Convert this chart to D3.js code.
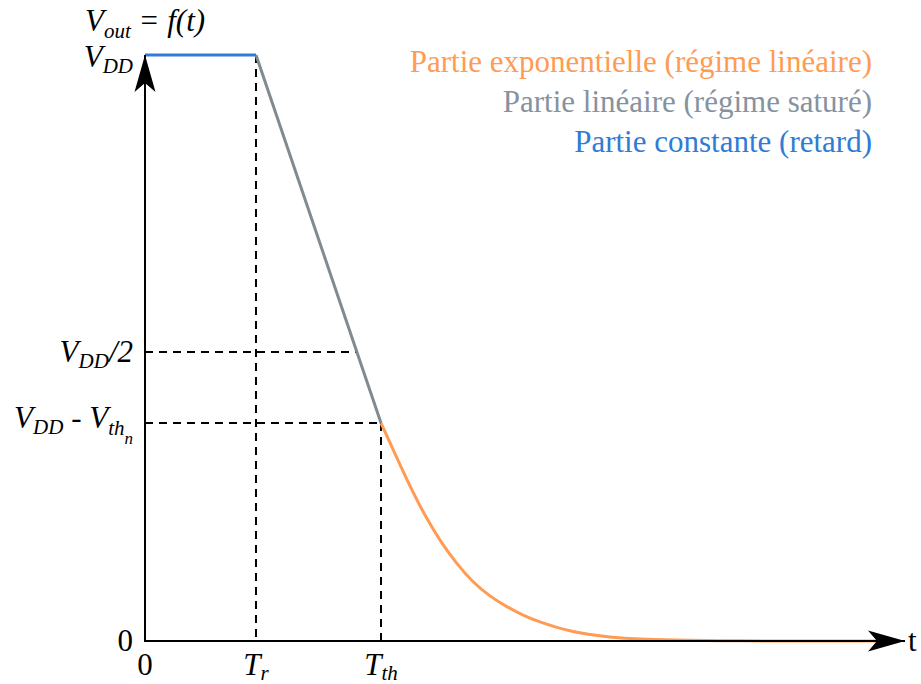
<!DOCTYPE html>
<html>
<head>
<meta charset="utf-8">
<script src="https://cdn.jsdelivr.net/npm/d3@7"></script>
<style>
body{margin:0;background:#fff}
svg text{font-family:"Liberation Serif","DejaVu Serif","Noto Serif","FreeSerif",Times,serif}
</style>
</head>
<body>
<svg id="chart"></svg>
<script>
// temps (0 .. fin de l'axe) et tension normalisee par VDD
var tMarks = [0, 1.11, 2.36]          // 0, Tr, Tth
var tNames = ["0", "Tr", "Tth"]
var vHalf = 0.493
var vTh = 0.372

var constT = [0, 1.11]
var constV = [1, 1]
var linT = [1.11, 2.36]
var linV = [1, 0.372]
var expT = [2.36, 2.52, 2.68, 2.82, 2.95, 3.12, 3.28, 3.45, 3.62, 3.78, 3.95, 4.12, 4.28, 4.45, 4.62, 4.95, 5.28, 5.75, 7.45]
var expV = [0.372, 0.312, 0.253, 0.208, 0.171, 0.131, 0.100, 0.076, 0.058, 0.044, 0.032, 0.023, 0.016, 0.011, 0.007, 0.003, 0.0015, 0, 0]

var legend = ["Partie exponentielle (régime linéaire)", "Partie linéaire (régime saturé)", "Partie constante (retard)"]
var colors = ["#ff9b52", "#86929e", "#2f7bd5"]
var lineColors = ["#ff9b52", "#7f8b91", "#2f7bd5"]

var W = 921, H = 684
var svg = d3.select("#chart").attr("width", W).attr("height", H)

var x = d3.scaleLinear().domain([0, 7.6]).range([145, 905])
var y = d3.scaleLinear().domain([0, 1]).range([641, 55])

var defs = svg.append("defs")
defs.append("marker")
  .attr("id", "arrow")
  .attr("markerUnits", "userSpaceOnUse")
  .attr("viewBox", "-38 -11 40 22")
  .attr("refX", 0).attr("refY", 0)
  .attr("markerWidth", 40).attr("markerHeight", 22)
  .attr("orient", "auto")
  .append("path")
  .attr("d", "M0,0 L-37,-10.5 L-28,0 L-37,10.5 Z")
  .attr("fill", "#000")

var zip = function(ts, vs){
  return ts.map(function(t, i){ return [t, vs[i]] })
}
var line = d3.line().x(function(d){ return x(d[0]) }).y(function(d){ return y(d[1]) })
var curve = d3.line().x(function(d){ return x(d[0]) }).y(function(d){ return y(d[1]) }).curve(d3.curveBasis)

// pointilles
var dash = svg.append("g").attr("stroke", "#000").attr("stroke-width", 2).attr("stroke-dasharray", "8,6")
dash.append("line").attr("x1", x(tMarks[1])).attr("x2", x(tMarks[1])).attr("y1", y(1)).attr("y2", y(0))
dash.append("line").attr("x1", x(tMarks[2])).attr("x2", x(tMarks[2])).attr("y1", y(vTh)).attr("y2", y(0))
var tHalf = linT[0] + (linT[1] - linT[0]) * (1 - vHalf) / (linV[0] - linV[1])
dash.append("line").attr("x1", x(0)).attr("x2", x(tHalf)).attr("y1", y(vHalf)).attr("y2", y(vHalf))
dash.append("line").attr("x1", x(0)).attr("x2", x(tMarks[2])).attr("y1", y(vTh)).attr("y2", y(vTh))

// courbes
svg.append("path").datum(zip(expT, expV)).attr("d", curve)
  .attr("fill", "none").attr("stroke", lineColors[0]).attr("stroke-width", 3)
svg.append("path").datum(zip(linT, linV)).attr("d", line)
  .attr("fill", "none").attr("stroke", lineColors[1]).attr("stroke-width", 3)
svg.append("path").datum(zip(constT, constV)).attr("d", line)
  .attr("fill", "none").attr("stroke", lineColors[2]).attr("stroke-width", 3)

// axes
svg.append("line").attr("x1", x(0)).attr("y1", y(0)).attr("x2", x(7.6)).attr("y2", y(0))
  .attr("stroke", "#000").attr("stroke-width", 2).attr("marker-end", "url(#arrow)")
svg.append("line").attr("x1", x(0)).attr("y1", y(0) + 1).attr("x2", x(0)).attr("y2", y(1))
  .attr("stroke", "#000").attr("stroke-width", 2).attr("marker-end", "url(#arrow)")

// textes axe y
var big = 31, sub = 21
var t1 = svg.append("text").attr("x", 85).attr("y", 31).attr("font-size", big).attr("font-style", "italic")
t1.append("tspan").text("V")
t1.append("tspan").attr("font-size", sub).attr("dy", 7).text("out")
t1.append("tspan").attr("dy", -7).text(" = f(t)")

var yLab = function(v, off){
  var t = svg.append("text").attr("x", 133).attr("y", y(v) + off)
    .attr("text-anchor", "end").attr("font-size", big).attr("font-style", "italic")
  return t
}
var l1 = yLab(1, 12)
l1.append("tspan").text("V")
l1.append("tspan").attr("font-size", sub).attr("dy", 6).text("DD")

var l2 = yLab(vHalf, 10)
l2.append("tspan").text("V")
l2.append("tspan").attr("font-size", sub).attr("dy", 6).text("DD")
l2.append("tspan").attr("dy", -6).text("/2")

var l3 = yLab(vTh, 5)
l3.append("tspan").text("V")
l3.append("tspan").attr("font-size", sub).attr("dy", 6).text("DD")
l3.append("tspan").attr("dy", -6).attr("font-style", "normal").text(" - ")
l3.append("tspan").text("V")
l3.append("tspan").attr("font-size", sub).attr("dy", 7).text("th")
l3.append("tspan").attr("font-size", 17).attr("dy", 9).text("n")

svg.append("text").attr("x", 133).attr("y", y(0) + 10).attr("text-anchor", "end")
  .attr("font-size", big).text("0")

// textes axe x
tNames.forEach(function(n, i){
  var t = svg.append("text").attr("x", x(tMarks[i])).attr("y", 675)
    .attr("text-anchor", "middle").attr("font-size", big)
  if (n == "0") { t.text("0"); return }
  t.attr("font-style", "italic")
  t.append("tspan").text("T")
  t.append("tspan").attr("font-size", sub).attr("dy", 5).text(n.slice(1))
})
svg.append("text").attr("x", 908).attr("y", 651).attr("font-size", big).text("t")

// legende
svg.selectAll(".leg").data(legend).enter().append("text")
  .attr("class", "leg")
  .attr("x", 872)
  .attr("y", function(d, i){ return 72 + i * 40 })
  .attr("text-anchor", "end")
  .attr("font-size", 31)
  .attr("fill", function(d, i){ return colors[i] })
  .text(function(d){ return d })
</script>
</body>
</html>
